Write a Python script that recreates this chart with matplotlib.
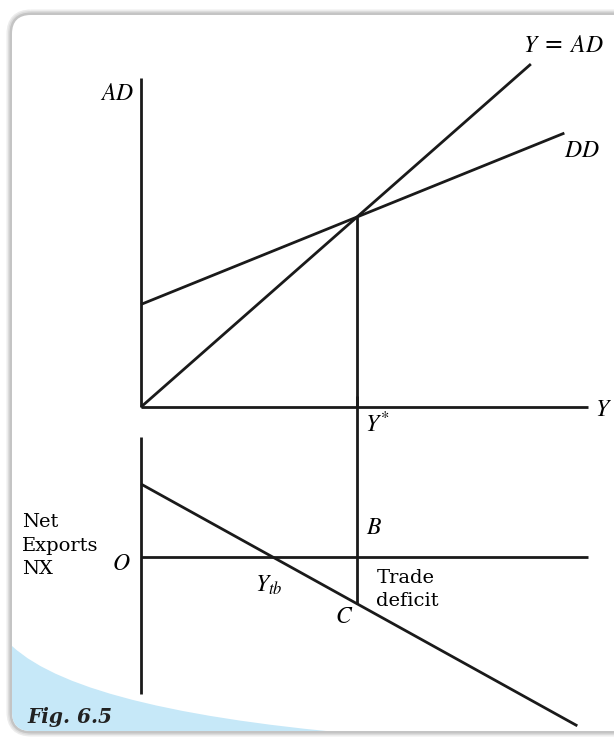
import matplotlib
matplotlib.use("Agg")
import matplotlib.pyplot as plt
import numpy as np
from matplotlib.patches import FancyBboxPatch, PathPatch
from matplotlib.path import Path

plt.rcParams['mathtext.fontset'] = 'stix'

# ---- data (economic units) ----
y_star = 10.0            # equilibrium income Y*
dd_intercept = 5.4       # autonomous demand (DD at Y=0)
dd_slope = 0.46
y_ad_end = 18.05         # end of 45-degree line
dd_end = 19.6
y_axis_end = 20.7
ad_axis_top = 17.3

nx_intercept = 3.84      # net exports at Y=0
nx_slope = 0.63
nx_end = 20.2
nx_axis_top = 6.3
nx_axis_bottom = -7.2

W, H = 614, 741
fig = plt.figure(figsize=(W / 100, H / 100), dpi=100)

# ---- background decoration (frame, swoosh, caption) ----
bg = fig.add_axes([0, 0, 1, 1])
bg.set_xlim(0, W)
bg.set_ylim(H, 0)
bg.axis('off')
for lw, col in [(9, '#ececec'), (6, '#dcdcdc'), (3, '#c4c4c4')]:
    bg.add_patch(FancyBboxPatch((11, 14), 640, 718,
                                boxstyle="round,pad=0,rounding_size=20",
                                fc='none', ec=col, lw=lw * 0.72, zorder=1))
frame = FancyBboxPatch((12, 15), 640, 716,
                       boxstyle="round,pad=0,rounding_size=19",
                       fc='white', ec='none', zorder=2)
bg.add_patch(frame)
verts = [(12, 646), (85, 714), (395, 737), (395, 760), (0, 760), (0, 646), (12, 646)]
codes = [Path.MOVETO, Path.CURVE3, Path.CURVE3, Path.LINETO, Path.LINETO,
         Path.LINETO, Path.CLOSEPOLY]
sw = PathPatch(Path(verts, codes), fc='#c6e8f8', ec='none', zorder=3)
bg.add_patch(sw)
sw.set_clip_path(frame)
bg.text(27, 717, 'Fig. 6.5', family='DejaVu Serif', weight='bold', style='italic',
        fontsize=14.5, color='#222222', va='center', ha='left', zorder=5)

# ---- upper panel: AD vs Y ----
px_x = 21.6   # px per unit Y
px_y = 19.0   # px per unit AD / NX
ox, oy = 141, 407
xmax, ymax = 22, 18
ax = fig.add_axes([ox / W, (H - oy) / H, xmax * px_x / W, ymax * px_y / H])
ax.set_xlim(0, xmax)
ax.set_ylim(0, ymax)
ax.axis('off')
lw = 2.0
k = dict(color='#1a1a1a', lw=lw, solid_capstyle='butt', clip_on=False)
ax.plot([0, 0], [0, ad_axis_top], **k)
ax.plot([0, y_axis_end], [0, 0], **k)
ax.plot([0, y_ad_end], [0, y_ad_end], **k)
ax.plot([0, dd_end], [dd_intercept, dd_intercept + dd_slope * dd_end], **k)
eq = dd_intercept + dd_slope * y_star
ax.plot([y_star, y_star], [eq, 0], **k)

ax.text(-0.3, ad_axis_top - 0.75, '$AD$', fontsize=17, ha='right', va='center')
ax.text(y_ad_end + 1.5, ad_axis_top + 1.75, '$Y$ = $AD$', fontsize=17, ha='center', va='center')
ax.text(dd_end + 0.8, dd_intercept + dd_slope * dd_end - 0.9, '$DD$', fontsize=17,
        ha='center', va='center')
ax.text(y_axis_end + 0.3, -0.1, '$Y$', fontsize=17, ha='left', va='center')
ax.text(y_star + 0.35, -0.9, '$Y^{*}$', fontsize=17, ha='left', va='center')

# ---- lower panel: NX vs Y ----
oy2 = 557
nymin, nymax = -8, 7
ax2 = fig.add_axes([ox / W, (H - (oy2 - nymin * px_y)) / H,
                    xmax * px_x / W, (nymax - nymin) * px_y / H])
ax2.set_xlim(0, xmax)
ax2.set_ylim(nymin, nymax)
ax2.axis('off')
ax2.plot([0, 0], [nx_axis_bottom, nx_axis_top], **k)
ax2.plot([0, y_axis_end], [0, 0], **k)
ax2.plot([0, nx_end], [nx_intercept, nx_intercept - nx_slope * nx_end], **k)
c_val = nx_intercept - nx_slope * y_star
ax2.plot([y_star, y_star], [nymax + 1.5, c_val], **k)
y_tb = nx_intercept / nx_slope

ax2.text(-5.5, 0.6, 'Net\nExports\nNX', family='DejaVu Serif', fontsize=14,
         ha='left', va='center', linespacing=1.38)
ax2.text(-0.5, -0.3, '$O$', fontsize=17, ha='right', va='center')
ax2.text(y_star + 0.8, 1.6, '$B$', fontsize=17, ha='center', va='center')
ax2.text(y_tb - 0.2, -1.45, '$Y_{tb}$', fontsize=17, ha='center', va='center')
ax2.text(y_star - 0.6, -3.1, '$C$', fontsize=17, ha='center', va='center')
ax2.text(y_star + 0.9, -1.7, 'Trade\ndeficit', family='DejaVu Serif', fontsize=14,
         ha='left', va='center', linespacing=1.38)

fig.savefig('out.png', dpi=100)
